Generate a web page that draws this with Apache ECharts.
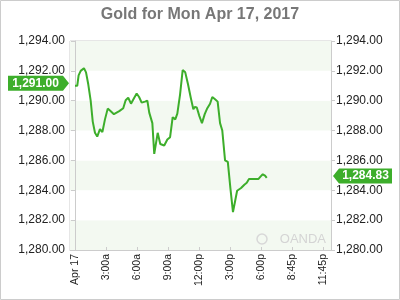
<!DOCTYPE html>
<html>
<head>
<meta charset="utf-8">
<script src="https://cdn.jsdelivr.net/npm/echarts@6/dist/echarts.min.js"></script>
<style>
html,body{margin:0;padding:0;background:#fff;}
#c{width:400px;height:300px;}
</style>
</head>
<body>
<div id="c"></div>
<script>
// minutes since midnight (Apr 17) and gold price
var times = [0,13,21,33,52,64,77,91,103,116,129,145,159,174,190,203,226,257,280,294,309,325,344,358,372,387,406,420,431,449,460,480,495,518,524,536,552,567,582,594,610,625,640,656,672,687,695,707,722,737,753,768,784,797,813,828,842,855,871,887,902,917,929,941,964,983,997,1010,1064,1078,1090,1103,1113];
var prices = [1291.0,1291.0,1291.7,1292.0,1292.18,1291.9,1291.1,1290.0,1288.6,1287.85,1287.6,1288.1,1287.9,1288.75,1289.47,1289.35,1289.1,1289.3,1289.5,1290.03,1290.2,1289.8,1290.2,1290.48,1290.25,1289.87,1289.94,1290.0,1289.2,1288.5,1286.44,1287.85,1287.1,1287.0,1286.9,1287.4,1287.56,1288.9,1288.75,1289.13,1290.43,1292.05,1291.9,1291.1,1290.2,1289.42,1289.58,1289.54,1288.97,1288.5,1289.1,1289.5,1289.8,1290.25,1290.1,1289.94,1288.5,1288.0,1286.0,1285.9,1284.15,1282.54,1283.25,1283.97,1284.15,1284.37,1284.5,1284.75,1284.75,1284.93,1285.07,1284.98,1284.83];
var tickValues = [0,180,360,540,720,900,1080,1260,1440];
var tickLabels = ["Apr 17","3:00a","6:00a","9:00a","12:00p","3:00p","6:00p","8:45p","11:45p"];
var openPrice = 1291.00;
var lastPrice = 1284.83;

function fmt(v){
  var s = v.toFixed(2);
  var parts = s.split('.');
  parts[0] = parts[0].replace(/\B(?=(\d{3})+(?!\d))/g, ',');
  return parts.join('.');
}
var FONT = '"Liberation Sans", Arial, sans-serif';
var GREEN = '#3dae2b';

var chart = echarts.init(document.getElementById('c'), null, {renderer:'canvas'});
var data = times.map(function(t,i){return [t, prices[i]];});

var yCommon = {
  type:'value', min:1280, max:1294, interval:2,
  axisLine:{show:true, lineStyle:{color:'#cccccc'}},
  axisTick:{show:true, length:4, lineStyle:{color:'#cccccc'}},
  splitLine:{show:false},
  axisLabel:{color:'#222', fontSize:12, fontFamily:FONT, margin:5, formatter:function(v){return fmt(v);}}
};

chart.setOption({
  animation:false,
  title:{text:'Gold for Mon Apr 17, 2017', left:'center', top:2,
    textStyle:{color:'#777', fontSize:16, fontWeight:'bold', fontFamily:FONT}},
  grid:{left:70, right:69, top:41, bottom:50, show:true, borderColor:'#cccccc', borderWidth:1, backgroundColor:'transparent'},
  xAxis:{
    type:'value', min:-29, max:1486,
    axisLine:{show:true, lineStyle:{color:'#cccccc'}},
    axisTick:{show:true, inside:true, length:3, customValues:tickValues, lineStyle:{color:'#cccccc'}},
    splitLine:{show:false},
    axisLabel:{customValues:tickValues, rotate:90, color:'#222', fontSize:10.5, fontFamily:FONT, margin:4,
      formatter:function(v){var i=tickValues.indexOf(v);return i>=0?tickLabels[i]:'';}}
  },
  yAxis:[
    Object.assign({}, yCommon, {position:'left',
      splitArea:{show:true, areaStyle:{color:['#f3f9f1','#ffffff']}}}),
    Object.assign({}, yCommon, {position:'right', splitArea:{show:false}})
  ],
  series:[{
    type:'line', data:data, yAxisIndex:0, showSymbol:false, symbol:'none',
    lineStyle:{color:GREEN, width:2}, itemStyle:{color:GREEN}
  }]
});

function drawTags(){
  var yOpen = chart.convertToPixel({yAxisIndex:0}, openPrice) - 2.5;
  var yLast = chart.convertToPixel({yAxisIndex:1}, lastPrice) - 2;
  var gl = chart.convertToPixel({xAxisIndex:0}, -29);
  var gr = chart.convertToPixel({xAxisIndex:0}, 1486);
  var yb = chart.convertToPixel({yAxisIndex:0}, 1280);
  var h = 7.5;
  chart.setOption({
    graphic:[
      {type:'rect', shape:{x:0.5,y:0.5,width:399,height:299}, style:{fill:null, stroke:'#cccccc', lineWidth:1}, silent:true, z:100},
      {type:'polygon', shape:{points:[[8,yOpen-h],[gl-7,yOpen-h],[gl-1,yOpen],[gl-7,yOpen+h],[8,yOpen+h]]}, style:{fill:GREEN}, z:50},
      {type:'text', x:(8+gl-7)/2, y:yOpen, style:{text:fmt(openPrice), fill:'#fff', font:'bold 12px '+FONT, align:'center', verticalAlign:'middle'}, z:51},
      {type:'polygon', shape:{points:[[gr+2,yLast],[gr+8,yLast-h],[392,yLast-h],[392,yLast+h],[gr+8,yLast+h]]}, style:{fill:GREEN}, z:50},
      {type:'text', x:(gr+8+392)/2, y:yLast, style:{text:fmt(lastPrice), fill:'#fff', font:'bold 12px '+FONT, align:'center', verticalAlign:'middle'}, z:51},
      {type:'text', x:gr-5, y:yb-11, style:{text:'OANDA', fill:'#d4d4d4', font:'13px '+FONT, align:'right', verticalAlign:'middle'}, z:5},
      {type:'circle', shape:{cx:gr-69, cy:yb-11, r:5}, style:{fill:null, stroke:'#d8d8d8', lineWidth:1.5}, z:5}
    ]
  });
}
drawTags();
</script>
</body>
</html>
